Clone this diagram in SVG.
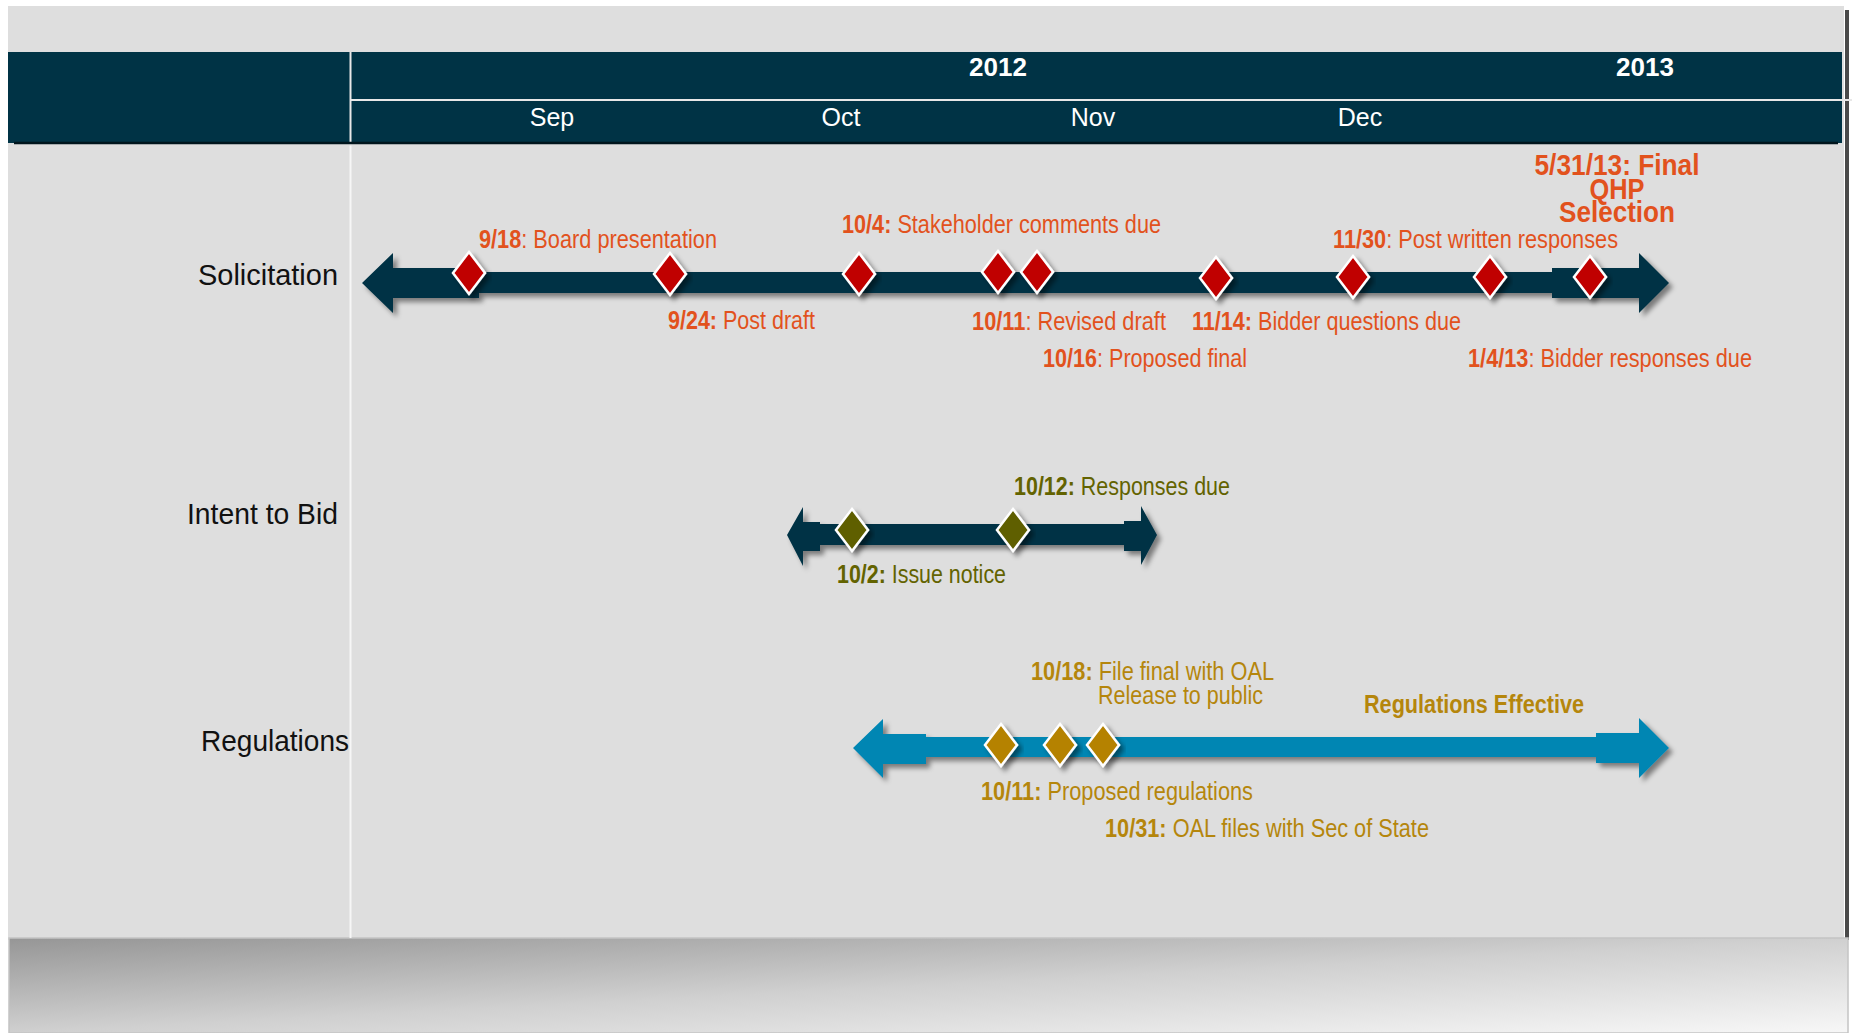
<svg xmlns="http://www.w3.org/2000/svg" xmlns:xlink="http://www.w3.org/1999/xlink" width="1852" height="1033" viewBox="0 0 1852 1033">
<style>
.lbl{font-family:"Liberation Sans Narrow","Liberation Sans",Arial,sans-serif;font-size:26px}
.b{font-weight:bold}
.sol{fill:#e2521d}
.itb{fill:#636300}
.reg{fill:#b5860c}
.row{font-family:"Liberation Sans Narrow","Liberation Sans",Arial,sans-serif;font-size:30px;fill:#111}
.hdr{font-family:"Liberation Sans",Arial,sans-serif;fill:#fff;text-anchor:middle}
.dia{stroke:#fff;stroke-width:2.5;filter:url(#sh)}
.dred{fill:#c00000}
.dolv{fill:#5e5e00}
.dgld{fill:#b58200}
</style>
<defs>
<filter id="sh" x="-20%" y="-40%" width="140%" height="180%">
<feDropShadow dx="4" dy="4" stdDeviation="2.5" flood-color="#000" flood-opacity="0.45"/>
</filter>
<linearGradient id="bot" x1="0" y1="0" x2="1" y2="1">
<stop offset="0" stop-color="#969696"/>
<stop offset="0.5" stop-color="#d0d0d0"/>
<stop offset="1" stop-color="#f7f7f7"/>
</linearGradient>
<path id="dm" d="M0,-21 L16,0 L0,21 L-16,0 Z"/>
</defs>

<g id="background">
<rect x="0" y="0" width="1852" height="1033" fill="#fff"/>
<rect x="8" y="6" width="1836" height="934" fill="#dedede"/>
<rect x="1845" y="10" width="4" height="930" fill="#4a4a4a"/>
<rect x="9" y="938" width="1839" height="95" fill="url(#bot)" stroke="#c4c4c4" stroke-width="1.5"/>
<line x1="350.5" y1="146" x2="350.5" y2="938" stroke="#f6f6f6" stroke-width="2"/>
</g>

<g id="header">
<rect x="8" y="52" width="1834" height="91" fill="#003345"/>
<line x1="350.5" y1="52" x2="350.5" y2="146" stroke="#e8e8e8" stroke-width="2"/>
<line x1="351" y1="100" x2="1852" y2="100" stroke="#e8e8e8" stroke-width="2"/>
<line x1="14" y1="143" x2="1838" y2="143" stroke="#00151d" stroke-width="2.5"/>
<text class="hdr b" x="998" y="76" font-size="26">2012</text>
<text class="hdr b" x="1645" y="76" font-size="26">2013</text>
<text class="hdr" x="552" y="126" font-size="25">Sep</text>
<text class="hdr" x="841" y="126" font-size="25">Oct</text>
<text class="hdr" x="1093" y="126" font-size="25">Nov</text>
<text class="hdr" x="1360" y="126" font-size="25">Dec</text>
</g>

<g id="row-labels">
<text class="row" x="198" y="285" textLength="140" lengthAdjust="spacingAndGlyphs">Solicitation</text>
<text class="row" x="187" y="524" textLength="151" lengthAdjust="spacingAndGlyphs">Intent to Bid</text>
<text class="row" x="201" y="751" textLength="148" lengthAdjust="spacingAndGlyphs">Regulations</text>
</g>

<g id="connectors">
<g id="solicitation-arrow" fill="#003345" filter="url(#sh)">
<rect x="393" y="272" width="1160" height="21"/>
<path d="M362,283 L393,253 L393,268 L479,268 L479,298 L393,298 L393,313 Z"/>
<path d="M1669,283 L1639,253 L1639,268 L1552,268 L1552,298 L1639,298 L1639,313 Z"/>
</g>
<g id="intent-arrow" fill="#003345" filter="url(#sh)">
<rect x="819" y="524" width="306" height="21"/>
<path d="M787,535 L803,507 L803,522 L820,522 L820,551 L803,551 L803,566 Z"/>
<path d="M1157,535 L1141,506 L1141,521 L1124,521 L1124,551 L1141,551 L1141,565 Z"/>
</g>
<g id="regulations-arrow" fill="#0086b3" filter="url(#sh)">
<rect x="925" y="737" width="672" height="20"/>
<path d="M853,748 L883,719 L883,734 L926,734 L926,764 L883,764 L883,778 Z"/>
<path d="M1669,748 L1639,718 L1639,733 L1596,733 L1596,763 L1639,763 L1639,778 Z"/>
</g>
</g>

<g id="solicitation-milestones">
<use href="#dm" class="dia dred" x="469" y="273"/>
<use href="#dm" class="dia dred" x="670" y="274"/>
<use href="#dm" class="dia dred" x="859" y="274"/>
<use href="#dm" class="dia dred" x="998" y="272"/>
<use href="#dm" class="dia dred" x="1037" y="272"/>
<use href="#dm" class="dia dred" x="1216" y="278"/>
<use href="#dm" class="dia dred" x="1353" y="277"/>
<use href="#dm" class="dia dred" x="1490" y="277"/>
<use href="#dm" class="dia dred" x="1590" y="277"/>
<text class="lbl sol" x="479" y="248" textLength="238" lengthAdjust="spacingAndGlyphs"><tspan class="b">9/18</tspan>: Board presentation</text>
<text class="lbl sol" x="668" y="329" textLength="147" lengthAdjust="spacingAndGlyphs"><tspan class="b">9/24:</tspan> Post draft</text>
<text class="lbl sol" x="842" y="233" textLength="319" lengthAdjust="spacingAndGlyphs"><tspan class="b">10/4:</tspan> Stakeholder comments due</text>
<text class="lbl sol" x="972" y="330" textLength="194" lengthAdjust="spacingAndGlyphs"><tspan class="b">10/11</tspan>: Revised draft</text>
<text class="lbl sol" x="1043" y="367" textLength="204" lengthAdjust="spacingAndGlyphs"><tspan class="b">10/16</tspan>: Proposed final</text>
<text class="lbl sol" x="1192" y="330" textLength="269" lengthAdjust="spacingAndGlyphs"><tspan class="b">11/14:</tspan> Bidder questions due</text>
<text class="lbl sol" x="1333" y="248" textLength="285" lengthAdjust="spacingAndGlyphs"><tspan class="b">11/30</tspan>: Post written responses</text>
<text class="lbl sol" x="1468" y="367" textLength="284" lengthAdjust="spacingAndGlyphs"><tspan class="b">1/4/13</tspan>: Bidder responses due</text>
<g id="final-selection" class="lbl sol b" style="font-size:30px" text-anchor="middle">
<text x="1617" y="175" textLength="165" lengthAdjust="spacingAndGlyphs">5/31/13: Final</text>
<text x="1617" y="199" textLength="55" lengthAdjust="spacingAndGlyphs">QHP</text>
<text x="1617" y="222" textLength="116" lengthAdjust="spacingAndGlyphs">Selection</text>
</g>
</g>

<g id="intent-milestones">
<use href="#dm" class="dia dolv" x="852" y="530"/>
<use href="#dm" class="dia dolv" x="1013" y="530"/>
<text class="lbl itb" x="1014" y="495" textLength="216" lengthAdjust="spacingAndGlyphs"><tspan class="b">10/12:</tspan> Responses due</text>
<text class="lbl itb" x="837" y="583" textLength="169" lengthAdjust="spacingAndGlyphs"><tspan class="b">10/2:</tspan> Issue notice</text>
</g>

<g id="regulations-milestones">
<use href="#dm" class="dia dgld" x="1001" y="745"/>
<use href="#dm" class="dia dgld" x="1060" y="745"/>
<use href="#dm" class="dia dgld" x="1103" y="745"/>
<text class="lbl reg" x="1031" y="680" textLength="243" lengthAdjust="spacingAndGlyphs"><tspan class="b">10/18:</tspan> File final with OAL</text>
<text class="lbl reg" x="1098" y="704" textLength="165" lengthAdjust="spacingAndGlyphs">Release to public</text>
<text class="lbl reg" x="981" y="800" textLength="272" lengthAdjust="spacingAndGlyphs"><tspan class="b">10/11:</tspan> Proposed regulations</text>
<text class="lbl reg" x="1105" y="837" textLength="324" lengthAdjust="spacingAndGlyphs"><tspan class="b">10/31:</tspan> OAL files with Sec of State</text>
<text class="lbl reg b" x="1364" y="713" textLength="220" lengthAdjust="spacingAndGlyphs">Regulations Effective</text>
</g>
</svg>
